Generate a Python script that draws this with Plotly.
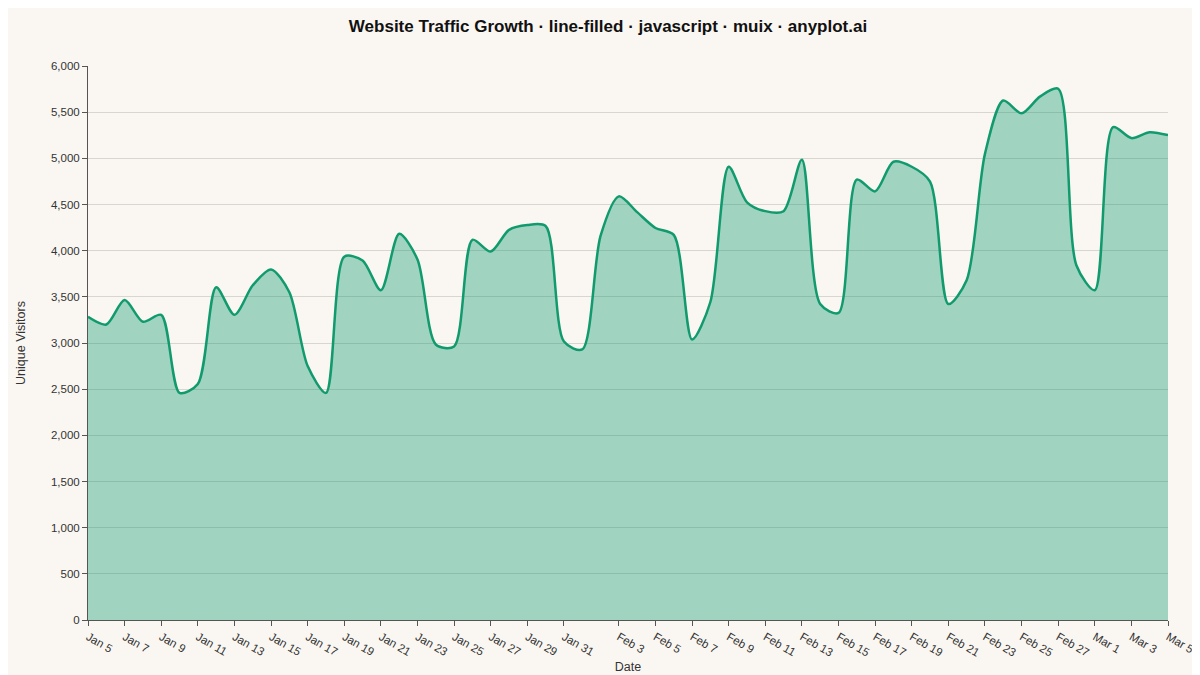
import plotly.graph_objects as go
import pandas as pd

dates = pd.date_range("2025-01-05", "2025-03-05", freq="D")
visitors = [3283, 3200, 3465, 3230, 3305, 2460, 2556, 3604, 3305, 3625,
            3797, 3550, 2750, 2460, 3935, 3893, 3572, 4182, 3904, 2984,
            2963, 4118, 3990, 4225, 4278, 4267, 3016, 2930, 4160, 4588,
            4417, 4246, 4171, 3037, 3444, 4909, 4524, 4428, 4428, 4984,
            3422, 3326, 4770, 4642, 4963, 4909, 4749, 3422, 3679, 5048,
            5626, 5487, 5668, 5754, 3840, 3572, 5337, 5219, 5283, 5251]
tick_dates = ["2025-01-05", "2025-01-07", "2025-01-09", "2025-01-11", "2025-01-13", "2025-01-15",
              "2025-01-17", "2025-01-19", "2025-01-21", "2025-01-23", "2025-01-25", "2025-01-27",
              "2025-01-29", "2025-01-31", "2025-02-03", "2025-02-05", "2025-02-07", "2025-02-09",
              "2025-02-11", "2025-02-13", "2025-02-15", "2025-02-17", "2025-02-19", "2025-02-21",
              "2025-02-23", "2025-02-25", "2025-02-27", "2025-03-01", "2025-03-03", "2025-03-05"]
tick_text = [pd.Timestamp(d).strftime("%b ") + str(pd.Timestamp(d).day) for d in tick_dates]

fig = go.Figure(go.Scatter(
    x=dates, y=visitors, mode="lines", fill="tozeroy",
    line=dict(color="#109a6e", width=2.5, shape="spline", smoothing=0.8),
    fillcolor="rgba(16,154,110,0.38)", hoverinfo="x+y"))

fig.update_layout(
    width=1200, height=675, paper_bgcolor="#faf7f2", plot_bgcolor="#faf7f2",
    font=dict(family="Liberation Sans, Arial, sans-serif", size=11.5, color="#333"),
    title=dict(text="<b>Website Traffic Growth · line-filled · javascript · muix · anyplot.ai</b>",
               x=0.5, y=0.982, xanchor="center", font=dict(size=17, color="#111")),
    margin=dict(l=72, r=39, t=58, b=56), showlegend=False,
    xaxis=dict(title=dict(text="Date", font=dict(size=12.5), standoff=4),
               range=[dates[0], dates[-1]], tickvals=tick_dates, ticktext=tick_text,
               showgrid=False, showline=True, linecolor="#555", ticks="outside",
               ticklen=5, tickcolor="#555"),
    yaxis=dict(title=dict(text="Unique Visitors", font=dict(size=12.5), standoff=22),
               range=[0, 6000], dtick=500, tickformat=",",
               gridcolor="#d9d6d0", showline=True, linecolor="#555",
               ticks="outside", ticklen=5, tickcolor="#555", zeroline=False),
)
fig.write_html("out.html")
